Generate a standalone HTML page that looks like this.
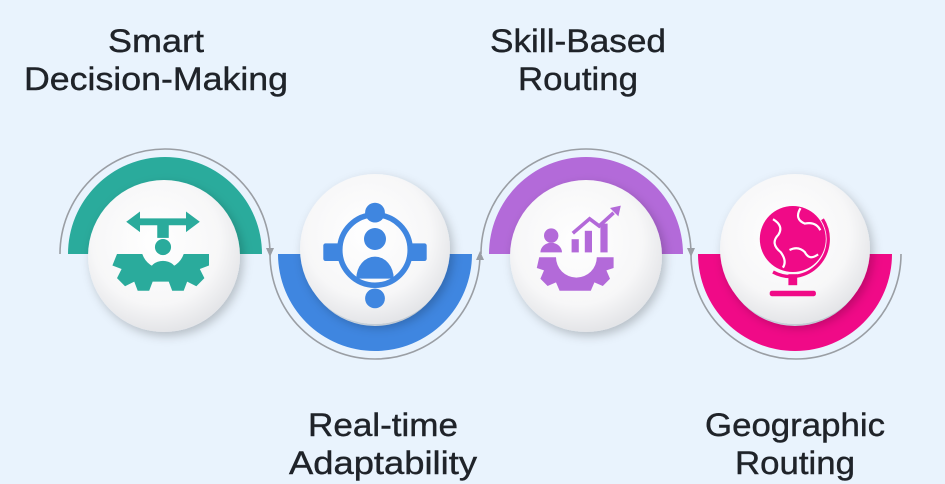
<!DOCTYPE html>
<html><head><meta charset="utf-8"><style>
html,body{margin:0;padding:0;background:#e9f3fd;}
svg{display:block}
text{font-family:"Liberation Sans",sans-serif;font-size:32px;fill:#1f2329;text-anchor:middle;stroke:#1f2329;stroke-width:0.4}
</style></head><body>
<svg width="945" height="484" viewBox="0 0 945 484">
<defs>
<radialGradient id="disc" cx="45%" cy="40%" r="60%">
<stop offset="0" stop-color="#ffffff"/><stop offset="0.7" stop-color="#f7f7f8"/><stop offset="1" stop-color="#e4e5e8"/>
</radialGradient>
<filter id="sh" x="-30%" y="-30%" width="160%" height="160%"><feDropShadow dx="3" dy="4" stdDeviation="5" flood-color="#000" flood-opacity="0.22"/></filter>
</defs>
<rect width="945" height="484" fill="#e9f3fd"/>
<g fill="none" stroke="#9a9ea4" stroke-width="1.6">
<path d="M60 254 A105 105 0 0 1 270 254"/>
<path d="M270 254 A105 105 0 0 0 480 254"/>
<path d="M481 254 A105 105 0 0 1 691 254"/>
<path d="M691 254 A105 105 0 0 0 901 254"/>
</g>
<path d="M266 248 l4 9 l4 -9z" fill="#9a9ea4"/>
<path d="M476 260 l4 -9 l4 9z" fill="#9a9ea4"/>
<path d="M687 248 l4 9 l4 -9z" fill="#9a9ea4"/>
<path d="M68 254 A97 97 0 0 1 262 254 L237 254 A72 72 0 0 0 93 254Z" fill="#2aab9c"/>
<path d="M278 254 A97 97 0 0 0 472 254 L447 254 A72 72 0 0 1 303 254Z" fill="#3f86e0"/>
<path d="M489 254 A97 97 0 0 1 683 254 L658 254 A72 72 0 0 0 514 254Z" fill="#b36ad9"/>
<path d="M698 254 A97 97 0 0 0 892 254 L867 254 A72 72 0 0 1 723 254Z" fill="#f00a87"/>
<circle cx="164" cy="256" r="76" fill="url(#disc)" filter="url(#sh)"/>
<circle cx="375" cy="249" r="75" fill="url(#disc)" filter="url(#sh)"/>
<circle cx="586" cy="256" r="76" fill="url(#disc)" filter="url(#sh)"/>
<circle cx="795" cy="249" r="75" fill="url(#disc)" filter="url(#sh)"/>
<g fill="#2aab9c" transform="translate(163 254) scale(1.15) translate(-163 -254)">
<path d="M131 226 l12 -9 v6 h40 v-6 l12 9 l-12 9 v-6 h-40 v6z"/>
<rect x="158" y="228" width="10" height="12"/>
<circle cx="163" cy="248" r="7"/>
<path d="M123 254 h22 a19 19 0 0 0 36 0 h22 v10 l-8 3 l4 8 l-7 7 l-8 -4 l-3 8 h-10 l-3 -8 h-14 l-3 8 h-10 l-3 -8 l-8 4 l-7 -7 l4 -8 l-8 -3z"/>
<path d="M151 270 a12 10 0 0 1 24 0z"/>
</g>
<g fill="#3f86e0" transform="translate(375 250) scale(1.1) translate(-375 -250)">
<circle cx="375" cy="250" r="32" fill="none" stroke="#3f86e0" stroke-width="5"/>
<circle cx="375" cy="216" r="9"/><circle cx="375" cy="294" r="9"/>
<rect x="328" y="244" width="16" height="16" rx="2"/><rect x="406" y="244" width="16" height="16" rx="2"/>
<circle cx="375" cy="240" r="10"/>
<path d="M358 276 a17 20 0 0 1 34 0z"/>
</g>
<g fill="#b36ad9" transform="translate(580 250) scale(1.2) translate(-580 -250)">
<circle cx="556" cy="238" r="6"/>
<path d="M547 252 a9 8 0 0 1 18 0z"/>
<rect x="573" y="241" width="6" height="11"/><rect x="584" y="234" width="6" height="18"/><rect x="597" y="228" width="6" height="24"/>
<path d="M574 236 l14 -12 l8 6 l12 -11" fill="none" stroke="#b36ad9" stroke-width="3"/>
<path d="M605 215 l9 -2 l-2 9z"/>
<path d="M546 256 h14 a17 17 0 0 0 34 0 h14 v9 l-6 2 l3 7 l-6 6 l-7 -3 l-3 7 h-26 l-3 -7 l-7 3 l-6 -6 l3 -7 l-6 -2z"/>
</g>
<g transform="translate(795 250) scale(1.1) translate(-795 -250)">
<circle cx="793" cy="240" r="30" fill="#f00a87"/>
<path d="M775 222 q10 6 5 14 q-8 8 2 16 q6 8 2 14 M800 212 q-6 10 4 14 q10 -2 14 6 M790 250 q8 -4 14 2 q4 8 12 2" fill="none" stroke="#fff" stroke-width="2"/>
<path d="M820 222 a34 34 0 0 1 -45 48" fill="none" stroke="#f00a87" stroke-width="3"/>
<rect x="789" y="272" width="8" height="10" fill="#f00a87"/>
<rect x="772" y="287" width="42" height="5" rx="2" fill="#f00a87"/>
</g>
<text x="156" y="52" textLength="96" lengthAdjust="spacingAndGlyphs">Smart</text>
<text x="156" y="90" textLength="264" lengthAdjust="spacingAndGlyphs">Decision-Making</text>
<text x="578" y="52" textLength="176" lengthAdjust="spacingAndGlyphs">Skill-Based</text>
<text x="578" y="90" textLength="120" lengthAdjust="spacingAndGlyphs">Routing</text>
<text x="383" y="436" textLength="150" lengthAdjust="spacingAndGlyphs">Real-time</text>
<text x="383" y="474" textLength="188" lengthAdjust="spacingAndGlyphs">Adaptability</text>
<text x="795" y="436" textLength="180" lengthAdjust="spacingAndGlyphs">Geographic</text>
<text x="795" y="474" textLength="120" lengthAdjust="spacingAndGlyphs">Routing</text>
</svg>
</body></html>
